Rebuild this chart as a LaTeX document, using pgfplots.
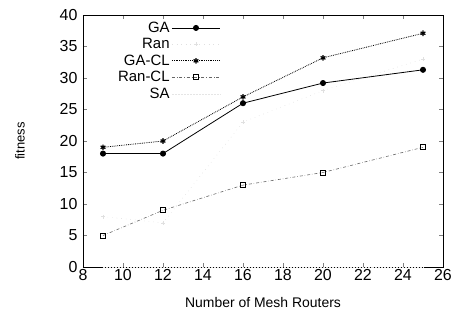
\documentclass[border=0pt]{standalone}
\usepackage{pgfplots}
\pgfplotsset{compat=1.18}
\usepackage{fontspec}
\setmainfont{Liberation Sans}
\begin{document}
\begin{tikzpicture}
\begin{axis}[
  scale only axis,
  width=360bp, height=252bp,
  xmin=8, xmax=26, ymin=0, ymax=40,
  xtick={8,10,...,26}, ytick={0,5,...,40},
  tick align=inside,
  major tick length=4bp,
  /pgf/number format/assume math mode=true,
  tick label style={font=\fontsize{16}{18}\selectfont},
  xticklabel style={yshift=1bp},
  yticklabel style={xshift=-2bp},
  xlabel={Number of Mesh Routers},
  ylabel={fitness},
  every axis x label/.style={at={(axis description cs:0.5,-0.139)}, anchor=center, font=\fontsize{14}{16}\selectfont},
  every axis y label/.style={at={(axis description cs:-0.175,0.5)}, rotate=90, anchor=center, font=\fontsize{13}{15}\selectfont},
  axis line style={line width=1pt},
  legend plot pos=right,
  legend cell align=right,
  legend style={draw=none, fill=none, font=\fontsize{15}{17}\selectfont, row sep=0.6bp,
    at={(axis description cs:0.385,0.985)}, anchor=north east, inner sep=1bp},
  legend image code/.code={\draw[mark repeat=2,mark phase=2,#1] plot coordinates {(0bp,0bp) (24bp,0bp) (48bp,0bp)};},
]
\addplot[black, line width=0.8pt, mark=*, mark size=2.6pt] coordinates {(9,18) (12,18) (16,26) (20,29.2) (25,31.3)};
\addlegendentry{GA}
\addplot[black!12, loosely dotted, line width=0.6pt, mark=+, mark size=2pt, mark options={solid}] coordinates {(9,8) (12,7) (16,23) (20,28) (25,33)};
\addlegendentry{Ran}
\addplot[black, densely dotted, line width=0.8pt, mark=asterisk, mark size=2.8pt, mark options={solid, line width=1.2pt}] coordinates {(9,19) (12,20) (16,27) (20,33.2) (25,37.1)};
\addlegendentry{GA-CL}
\addplot[black!60, dash dot, line width=0.6pt, mark=square, mark size=2.5pt, mark options={solid, black, line width=0.7pt}] coordinates {(9,5) (12,9) (16,13) (20,15) (25,19)};
\addlegendentry{Ran-CL}
\addplot[black!10, densely dotted, line width=0.5pt] coordinates {(9,0) (12,0) (16,0) (20,0) (25,0)};
\addlegendentry{SA}
\end{axis}
\pgfresetboundingbox
\path (-83bp,-55bp) rectangle (380bp,267bp);
\end{tikzpicture}
\end{document}
